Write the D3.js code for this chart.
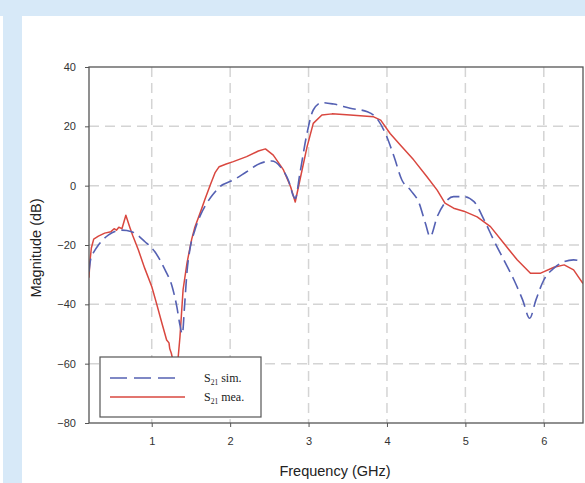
<!DOCTYPE html>
<html>
<head>
<meta charset="utf-8">
<script src="https://cdn.jsdelivr.net/npm/d3@7"></script>
<style>
  body { margin: 0; background: #fff; }
  svg { display: block; }
</style>
</head>
<body>
<div id="chart"></div>
<script>
// S21 simulated (dashed blue)
var simFreq = [0.20, 0.22, 0.27, 0.32, 0.45, 0.62, 0.745, 0.914, 1.04, 1.17, 1.26, 1.32, 1.36, 1.39, 1.42, 1.45, 1.49, 1.55, 1.62, 1.70, 1.78, 1.87, 2.04, 2.21, 2.38, 2.53, 2.64, 2.75, 2.81, 2.83, 2.89, 2.98, 3.06, 3.17, 3.32, 3.53, 3.75, 3.87, 3.98, 4.09, 4.19, 4.30, 4.41, 4.49, 4.55, 4.64, 4.75, 4.85, 4.98, 5.11, 5.24, 5.36, 5.49, 5.62, 5.73, 5.82, 5.90, 6.00, 6.13, 6.26, 6.38, 6.50];
var simMag = [-29, -25, -22, -20, -16.6, -15, -15.5, -18.9, -22.3, -28.4, -34, -40.8, -47, -50, -40, -29, -21, -15, -10, -6, -3, -0.3, 1.9, 4.7, 7.5, 8.3, 6.4, 1.3, -3.7, -4.3, 4.2, 17.6, 25.5, 28, 27.5, 26.1, 24.9, 22.7, 17.6, 9.8, 1.9, -1.5, -5.9, -12.7, -17.2, -10.5, -5.4, -3.7, -3.7, -5.4, -11.6, -18.3, -25, -31.8, -38.5, -44.7, -38.5, -31.8, -27.8, -25.6, -25, -25.6];

// S21 measured (solid red)
var meaFreq = [0.20, 0.21, 0.23, 0.26, 0.32, 0.40, 0.48, 0.52, 0.55, 0.58, 0.62, 0.67, 0.72, 0.76, 0.83, 0.91, 1.00, 1.06, 1.13, 1.19, 1.22, 1.23, 1.25, 1.28, 1.30, 1.33, 1.36, 1.40, 1.45, 1.51, 1.55, 1.62, 1.68, 1.75, 1.81, 1.86, 1.95, 2.04, 2.21, 2.36, 2.45, 2.55, 2.68, 2.77, 2.83, 2.89, 2.98, 3.06, 3.17, 3.30, 3.53, 3.83, 3.92, 4.04, 4.17, 4.34, 4.51, 4.64, 4.74, 4.85, 4.98, 5.15, 5.32, 5.49, 5.66, 5.83, 5.96, 6.13, 6.26, 6.38, 6.50];
var meaMag = [-31, -26, -21, -18, -17, -16, -15.5, -14.5, -15, -14, -14.5, -10, -14, -17, -21.7, -27.8, -34, -39.6, -46.4, -52, -53, -55, -56.5, -60, -62, -60, -51, -35, -26, -18, -14, -9, -4.5, 0.5, 4.5, 6.4, 7.3, 8.1, 9.8, 11.7, 12.4, 10.3, 5.3, -0.3, -5.5, 1.9, 13, 21, 23.8, 24.2, 23.8, 23.2, 22.1, 17.6, 13.7, 8.7, 3, -1.5, -5.9, -7.6, -8.6, -10.5, -13.8, -19.4, -25, -29.5, -29.5, -27.5, -26.7, -28.4, -33];

var xTicks = [1, 2, 3, 4, 5, 6];
var yTicks = [-80, -60, -40, -20, 0, 20, 40];

var svgWidth = 585;
var svgHeight = 483;

var margin = { top: 67, right: 2, bottom: 60, left: 89 };
var width = svgWidth - margin.left - margin.right;
var height = svgHeight - margin.top - margin.bottom;

var svg = d3.select("#chart")
    .append("svg")
    .attr("width", svgWidth)
    .attr("height", svgHeight);

// light blue page frame
svg.append("rect")
    .attr("x", 0).attr("y", 0)
    .attr("width", svgWidth).attr("height", 16)
    .attr("fill", "#d7e9f8");
svg.append("rect")
    .attr("x", 3).attr("y", 0)
    .attr("width", 19).attr("height", svgHeight)
    .attr("fill", "#d7e9f8");

var chartGroup = svg.append("g")
    .attr("transform", `translate(${margin.left},${margin.top})`);

var xScale = d3.scaleLinear()
    .domain([0.2, 6.5])
    .range([0, width]);

var yScale = d3.scaleLinear()
    .domain([-80, 40])
    .range([height, 0]);

// grid
chartGroup.append("g")
    .selectAll("line")
    .data(xTicks)
    .enter()
    .append("line")
    .attr("x1", d => xScale(d)).attr("x2", d => xScale(d))
    .attr("y1", 0).attr("y2", height)
    .attr("stroke", "#d4d4d4")
    .attr("stroke-width", 1.5)
    .attr("stroke-dasharray", "10,6");

chartGroup.append("g")
    .selectAll("line")
    .data(yTicks.slice(1, -1))
    .enter()
    .append("line")
    .attr("x1", 0).attr("x2", width)
    .attr("y1", d => yScale(d)).attr("y2", d => yScale(d))
    .attr("stroke", "#d4d4d4")
    .attr("stroke-width", 1.5)
    .attr("stroke-dasharray", "10,6");

// curves
chartGroup.append("clipPath")
    .attr("id", "plotClip")
    .append("rect")
    .attr("width", width)
    .attr("height", height);

var simData = simFreq.map((f, i) => ({ f: f, m: simMag[i] }));
var meaData = meaFreq.map((f, i) => ({ f: f, m: meaMag[i] }));

var simLine = d3.line()
    .x(d => xScale(d.f))
    .y(d => yScale(d.m))
    .curve(d3.curveMonotoneX);

var meaLine = d3.line()
    .x(d => xScale(d.f))
    .y(d => yScale(d.m));

chartGroup.append("path")
    .datum(meaData)
    .attr("clip-path", "url(#plotClip)")
    .attr("d", meaLine)
    .attr("fill", "none")
    .attr("stroke", "#d9473f")
    .attr("stroke-width", 1.5)
    .attr("stroke-linejoin", "round");

chartGroup.append("path")
    .datum(simData)
    .attr("clip-path", "url(#plotClip)")
    .attr("d", simLine)
    .attr("fill", "none")
    .attr("stroke", "#5561b3")
    .attr("stroke-width", 1.6)
    .attr("stroke-dasharray", "13,6");

// axes
var xAxis = d3.axisBottom(xScale).tickValues(xTicks).tickFormat(d3.format("d")).tickSize(4).tickPadding(10);
var yAxis = d3.axisLeft(yScale).tickValues(yTicks).tickFormat(d3.format("d")).tickSize(4).tickPadding(9);

var xg = chartGroup.append("g")
    .attr("transform", `translate(0, ${height})`)
    .call(xAxis);

var yg = chartGroup.append("g")
    .call(yAxis);

[xg, yg].forEach(function(g) {
    g.select(".domain").remove();
    g.selectAll("line").attr("stroke", "#555");
    g.selectAll("text")
        .attr("fill", "#333")
        .style("font-family", "Arial, 'Liberation Sans', sans-serif")
        .style("font-size", "11px");
});

// frame
chartGroup.append("rect")
    .attr("width", width)
    .attr("height", height)
    .attr("fill", "none")
    .attr("stroke", "#555")
    .attr("stroke-width", 1.3);

// axis titles
chartGroup.append("text")
    .attr("x", 335 - margin.left)
    .attr("y", height + 53)
    .attr("text-anchor", "middle")
    .style("font-family", "Arial, 'Liberation Sans', sans-serif")
    .style("font-size", "14.5px")
    .attr("fill", "#222")
    .text("Frequency (GHz)");

chartGroup.append("text")
    .attr("transform", "rotate(-90)")
    .attr("x", -(248 - margin.top))
    .attr("y", 41 - margin.left)
    .attr("text-anchor", "middle")
    .style("font-family", "Arial, 'Liberation Sans', sans-serif")
    .style("font-size", "14.5px")
    .attr("fill", "#222")
    .text("Magnitude (dB)");

// legend
var legend = svg.append("g")
    .attr("transform", "translate(100, 357)");

legend.append("rect")
    .attr("width", 161)
    .attr("height", 60)
    .attr("fill", "#fff")
    .attr("stroke", "#555")
    .attr("stroke-width", 1.2);

var legendItems = [
    { name: "sim.", color: "#5561b3", dash: "17,7", x2: 78, y: 21 },
    { name: "mea.", color: "#d9473f", dash: null, x2: 85, y: 40 }
];

legendItems.forEach(function(d) {
    legend.append("line")
        .attr("x1", 10).attr("x2", d.x2)
        .attr("y1", d.y).attr("y2", d.y)
        .attr("stroke", d.color)
        .attr("stroke-width", 1.6)
        .attr("stroke-dasharray", d.dash);

    var t = legend.append("text")
        .attr("x", 104)
        .attr("y", d.y + 4)
        .style("font-family", "'Liberation Serif', 'Times New Roman', serif")
        .style("font-size", "12px")
        .attr("fill", "#222");
    t.append("tspan").text("S");
    t.append("tspan")
        .attr("dy", 3)
        .style("font-size", "7.5px")
        .text("21");
    t.append("tspan")
        .attr("dy", -3)
        .text(" " + d.name);
});
</script>
</body>
</html>
